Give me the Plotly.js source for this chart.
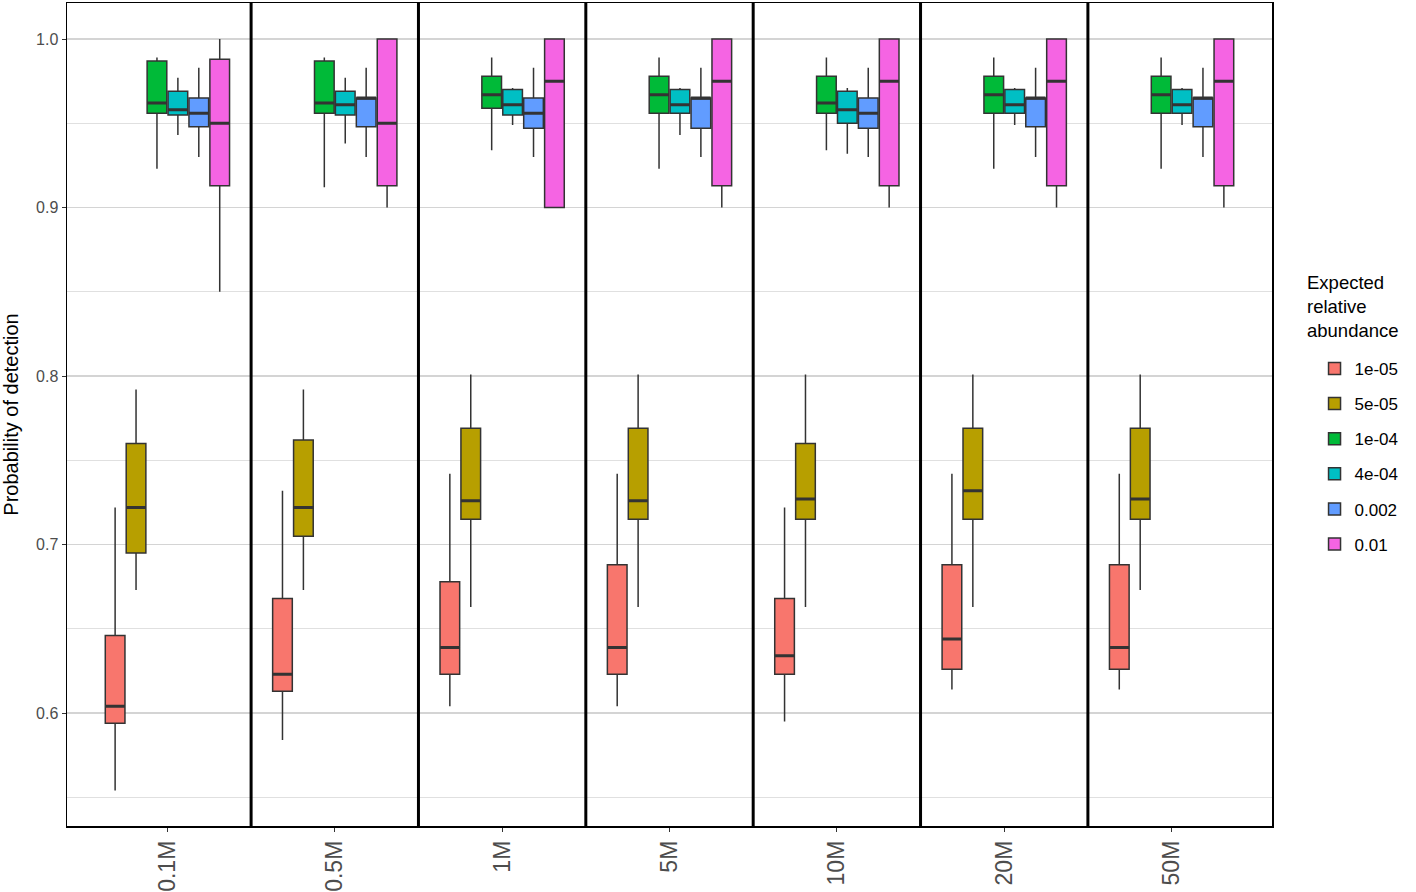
<!DOCTYPE html>
<html><head><meta charset="utf-8">
<script src="https://cdn.plot.ly/plotly-3.0.1.min.js"></script>
<style>html,body{margin:0;padding:0;background:#fff;} #chart{width:1416px;height:892px;}</style>
</head><body><div id="chart"></div>
<script>
const categories = ['0.1M','0.5M','1M','5M','10M','20M','50M'];
const abundances = ['1e-05','5e-05','1e-04','4e-04','0.002','0.01'];
const legendTitle = 'Expected<br>relative<br>abundance';
const yTitle = 'Probability of detection';
const lowerWhisker = [
 [0.554,0.584,0.604,0.604,0.595,0.614,0.614],
 [0.673,0.673,0.663,0.663,0.663,0.663,0.673],
 [0.923,0.912,0.934,0.923,0.934,0.923,0.923],
 [0.943,0.938,0.949,0.943,0.932,0.949,0.949],
 [0.930,0.930,0.930,0.930,0.930,0.930,0.930],
 [0.850,0.900,0.900,0.900,0.900,0.900,0.900]
];
const q1 = [
 [0.594,0.613,0.623,0.623,0.623,0.626,0.626],
 [0.695,0.705,0.715,0.715,0.715,0.715,0.715],
 [0.956,0.956,0.959,0.956,0.956,0.956,0.956],
 [0.955,0.955,0.955,0.956,0.950,0.956,0.956],
 [0.948,0.948,0.947,0.947,0.947,0.948,0.948],
 [0.913,0.913,0.900,0.913,0.913,0.913,0.913]
];
const median = [
 [0.604,0.623,0.639,0.639,0.634,0.644,0.639],
 [0.722,0.722,0.726,0.726,0.727,0.732,0.727],
 [0.962,0.962,0.967,0.967,0.962,0.967,0.967],
 [0.958,0.961,0.961,0.961,0.958,0.961,0.961],
 [0.956,0.965,0.956,0.965,0.956,0.965,0.965],
 [0.950,0.950,0.975,0.975,0.975,0.975,0.975]
];
const q3 = [
 [0.646,0.668,0.678,0.688,0.668,0.688,0.688],
 [0.760,0.762,0.769,0.769,0.760,0.769,0.769],
 [0.987,0.987,0.978,0.978,0.978,0.978,0.978],
 [0.969,0.969,0.970,0.970,0.969,0.970,0.970],
 [0.965,0.965,0.965,0.965,0.965,0.965,0.965],
 [0.988,1.000,1.000,1.000,1.000,1.000,1.000]
];
const upperWhisker = [
 [0.722,0.732,0.742,0.742,0.722,0.742,0.742],
 [0.792,0.792,0.801,0.801,0.801,0.801,0.801],
 [0.989,0.989,0.989,0.989,0.989,0.989,0.989],
 [0.977,0.977,0.971,0.971,0.971,0.971,0.971],
 [0.983,0.983,0.983,0.983,0.983,0.983,0.983],
 [1.000,1.000,1.000,1.000,1.000,1.000,1.000]
];
const yTicks = [0.6,0.7,0.8,0.9,1.0];
const yTickText = ['0.6','0.7','0.8','0.9','1.0'];
const yMinor = [0.55,0.65,0.75,0.85,0.95];

const colors = ['#F8766D','#B79F00','#00BA38','#00BFC4','#619CFF','#F564E3'];
const FONT = 'Liberation Sans, Arial, sans-serif';

const traces = [];
abundances.forEach((name,i)=>{
  traces.push({
    type:'box', name:name, x:categories,
    q1:q1[i], median:median[i], q3:q3[i],
    lowerfence:lowerWhisker[i], upperfence:upperWhisker[i],
    boxpoints:false, whiskerwidth:0,
    fillcolor:colors[i], line:{color:'#333333', width:1.5},
    offsetgroup:'g'+i, legendgroup:'g'+i, hoverinfo:'skip'
  });
});
// thicker median bars (ggplot style), same slot as each box
abundances.forEach((name,i)=>{
  traces.push({
    type:'box', name:name+' median', x:categories,
    q1:median[i], median:median[i], q3:median[i],
    lowerfence:median[i], upperfence:median[i],
    boxpoints:false, whiskerwidth:0,
    fillcolor:'rgba(0,0,0,0)', line:{color:'#333333', width:3},
    offsetgroup:'g'+i, legendgroup:'g'+i, showlegend:false, hoverinfo:'skip'
  });
});

const shapes = [];
for(let k=0;k<categories.length-1;k++){
  shapes.push({type:'line', xref:'x', yref:'paper', x0:k+0.5, x1:k+0.5, y0:0, y1:1,
    line:{color:'#000', width:3}, layer:'above'});
}

const layout = {
  width:1416, height:892,
  margin:{l:67, r:144, t:3, b:66},
  paper_bgcolor:'#fff', plot_bgcolor:'#fff',
  font:{family:FONT, color:'#000'},
  boxmode:'group', boxgap:0.25, boxgroupgap:0.06,
  xaxis:{type:'category', categoryorder:'array', categoryarray:categories,
    range:[-0.6,6.6], tickangle:-90, ticks:'outside', ticklen:4, tickcolor:'#333',
    tickfont:{size:23, color:'#4d4d4d', family:FONT}, showgrid:false, zeroline:false,
    showline:true, mirror:true, linecolor:'#000', linewidth:1.5},
  yaxis:{range:[0.533,1.0214], tickvals:yTicks, ticktext:yTickText,
    ticks:'outside', ticklen:4, tickcolor:'#333',
    tickfont:{size:16, color:'#4d4d4d', family:FONT},
    showgrid:true, gridcolor:'#d4d4d4', gridwidth:1.2, zeroline:false,
    showline:true, mirror:true, linecolor:'#000', linewidth:1.5,
    minor:{tickvals:yMinor, showgrid:true, gridcolor:'#e0e0e0', gridwidth:1.2, ticks:''},
    title:{text:yTitle, font:{size:20, color:'#000', family:FONT}, standoff:12}},
  legend:{x:1.0353, xanchor:'left', y:0.5772, yanchor:'top',
    font:{size:17, color:'#000', family:FONT}, traceorder:'grouped', tracegroupgap:10,
    bgcolor:'rgba(0,0,0,0)'},
  annotations:[{xref:'paper', yref:'paper', x:1.0274, y:0.6755, xanchor:'left', yanchor:'top',
    text:legendTitle, showarrow:false, align:'left',
    font:{size:18.5, color:'#000', family:FONT}}],
  shapes:shapes,
  showlegend:true
};

Plotly.newPlot('chart', traces, layout, {displayModeBar:false, staticPlot:true});
</script></body></html>
